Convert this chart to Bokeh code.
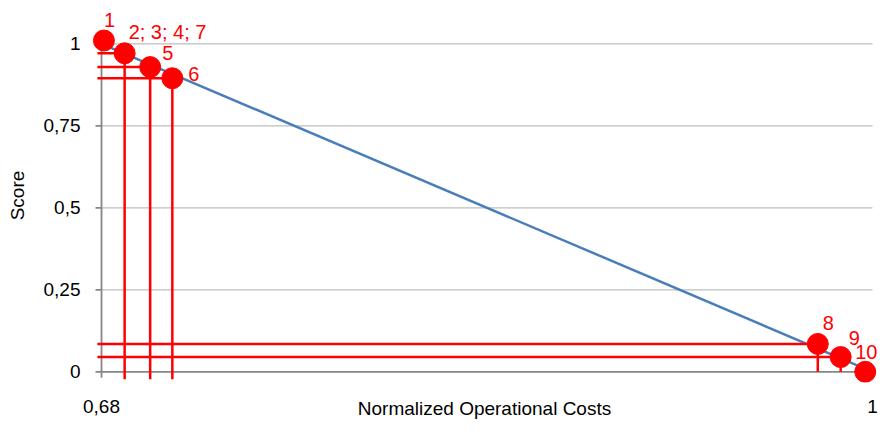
import numpy as np
from bokeh.plotting import figure
from bokeh.models import ColumnDataSource, Range1d, FixedTicker, LabelSet
from bokeh.core.properties import value
from bokeh.embed import file_html
from bokeh.resources import INLINE

# ---- data ----
point_labels = ["1", "2; 3; 4; 7", "5", "6", "8", "9", "10"]
point_cost = [0.6810, 0.6896, 0.7002, 0.7094, 0.9773, 0.9868, 0.9970]
point_score = [1.010, 0.971, 0.929, 0.895, 0.085, 0.045, 0.000]

# error-bar style guide lines (for points 2, 5, 6, 8, 9)
guide_idx = [1, 2, 3, 4, 5]
guide_left = 0.6783
guide_bottom = [-0.023, -0.023, -0.023, 0.0, 0.0]

# reference line of the score function
line_cost = [0.68, 1.0]
line_score = [1.0, 0.0]

x_ticks = [0.68, 1.0]
x_tick_labels = ["0,68", "1"]
y_ticks = [0.0, 0.25, 0.5, 0.75, 1.0]
y_tick_labels = ["0", "0,25", "0,5", "0,75", "1"]

# label placement (screen px offsets from the marker centre)
label_dx = [0, 4, 12, 16, 5, 8, -10]
label_dy = [21, 21, 14, 4, 21, 19, 20]

FONT = "Liberation Sans"
RED = "#FF0000"
AXIS_GRAY = "#868686"
GRID_GRAY = "#BEBEBE"
BLUE = "#4A7EBB"

p = figure(width=879, height=426, output_backend="svg", toolbar_location=None,
           x_range=Range1d(0.67543, 1.0025), y_range=Range1d(-0.0326, 1.1076),
           min_border_left=90, min_border_right=1, min_border_top=8, min_border_bottom=44)
p.outline_line_color = None
p.background_fill_color = "white"
p.border_fill_color = "white"
p.xgrid.visible = False
p.ygrid.visible = False

# axes: only tick labels & titles from Bokeh
for ax in (p.xaxis[0], p.yaxis[0]):
    ax.axis_line_color = None
    ax.major_tick_line_color = None
    ax.minor_tick_line_color = None
    ax.major_tick_out = 0
    ax.major_tick_in = 0
    ax.minor_tick_out = 0
    ax.minor_tick_in = 0
    ax.major_label_text_font = FONT
    ax.major_label_text_font_size = "19px"
    ax.major_label_text_color = "#000000"
    ax.axis_label_text_font = FONT
    ax.axis_label_text_font_size = "19px"
    ax.axis_label_text_font_style = "normal"
    ax.axis_label_text_color = "#000000"

p.xaxis.ticker = FixedTicker(ticks=x_ticks)
p.xaxis.major_label_overrides = {t: s for t, s in zip(x_ticks, x_tick_labels)}
p.xaxis.major_label_standoff = 17
p.xaxis.axis_label = "Normalized Operational Costs"
p.xaxis.axis_label_standoff = -18

p.yaxis.ticker = FixedTicker(ticks=y_ticks)
p.yaxis.major_label_overrides = {t: s for t, s in zip(y_ticks, y_tick_labels)}
p.yaxis.major_label_standoff = 10
p.yaxis.axis_label = "Score"
p.yaxis.axis_label_standoff = 13

x0, x1 = x_ticks[0], x_ticks[-1]
y0, y1 = y_ticks[0], y_ticks[-1]

# gridlines (from the y axis to the right end)
gy = y_ticks[1:]
p.segment(x0=[x0] * len(gy), y0=gy, x1=[x1] * len(gy), y1=gy,
          line_color=GRID_GRAY, line_width=1.3)

# axis lines
p.segment(x0=[x0, x0], y0=[y0, y0], x1=[x1, x0], y1=[y0, y1],
          line_color=AXIS_GRAY, line_width=1.8)
# tick marks
p.ray(x=[x0] * len(y_ticks), y=y_ticks, length=6, length_units="screen",
      angle=np.pi, line_color=AXIS_GRAY, line_width=1.8)
p.ray(x=x_ticks, y=[y0] * len(x_ticks), length=6, length_units="screen",
      angle=-np.pi / 2, line_color=AXIS_GRAY, line_width=1.8)

# blue reference line
p.line(x=line_cost, y=line_score, line_color=BLUE, line_width=2.5)

# red guide lines
gx = [point_cost[i] for i in guide_idx]
gs = [point_score[i] for i in guide_idx]
p.segment(x0=[guide_left] * len(gx), y0=gs, x1=gx, y1=gs, line_color=RED, line_width=2.5)
p.segment(x0=gx, y0=gs, x1=gx, y1=guide_bottom, line_color=RED, line_width=2.5)

# points
src = ColumnDataSource(dict(x=point_cost, y=point_score, label=point_labels,
                            dx=label_dx, dy=label_dy))
p.scatter(x="x", y="y", source=src, size=21, fill_color=RED, line_color=RED)

labels = LabelSet(x="x", y="y", text="label", source=src, x_offset="dx", y_offset="dy",
                  text_font=value(FONT), text_font_size=value("20px"), text_color=value(RED),
                  text_align="left", text_baseline="middle")
p.add_layout(labels)

open("out.html", "w").write(file_html(p, INLINE))
